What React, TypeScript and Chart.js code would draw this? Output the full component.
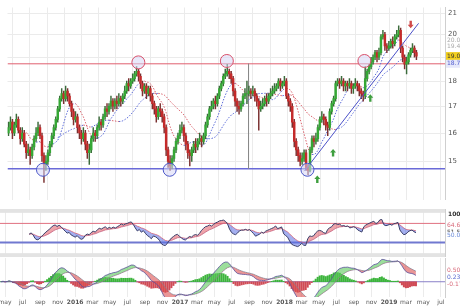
import React, { useEffect, useRef } from 'react';
import { Chart, registerables } from 'chart.js';

Chart.register(...registerables);

const startDate = '2015-04-17';

const opens = [
  16.0, 16.2, 16.4, 16.0, 16.3, 16.5, 16.1, 15.8, 16.0, 15.6,
  15.3, 15.4, 15.2, 15.5, 15.8, 16.0, 16.2, 15.9, 15.2, 14.9,
  15.0, 15.3, 15.6, 15.9, 16.2, 16.5, 16.9, 17.3, 17.5, 17.3,
  17.6, 17.4, 17.1, 16.8, 16.5, 16.6, 16.2, 16.0, 15.8, 16.0,
  15.6, 15.3, 15.4, 15.8, 16.0, 15.9, 16.2, 16.4, 16.3, 16.6,
  16.9, 16.8, 17.0, 17.2, 17.0, 17.2, 17.1, 17.3, 17.2, 17.4,
  17.6, 17.9, 17.8, 18.0, 18.1, 18.3, 18.4, 18.2, 17.9, 17.6,
  17.8, 17.5, 17.7, 17.4, 17.1, 16.9, 16.6, 16.9, 16.8, 16.6,
  16.2, 15.4, 15.0, 14.85, 15.1, 15.4, 15.7, 15.9, 16.1, 16.2,
  15.9, 15.6, 15.3, 15.2, 15.4, 15.6, 15.5, 15.7, 15.8, 15.7,
  15.9, 16.3, 16.6, 16.9, 17.0, 17.2, 17.1, 17.4, 17.7, 17.9,
  18.2, 18.3, 18.4, 18.3, 18.1, 17.6, 17.2, 17.0, 16.9, 17.1,
  17.4, 17.5, 17.5, 17.6, 17.5, 17.6, 17.4, 17.2, 16.9, 17.0,
  17.1, 17.3, 17.2, 17.4, 17.5, 17.6, 17.7, 17.8, 18.0, 17.8,
  17.9, 18.0, 17.4, 17.2, 17.0, 16.4, 15.7, 15.4, 15.2, 15.0,
  15.1, 15.3, 14.8, 14.7, 15.4, 15.8, 15.7, 15.8, 16.2, 16.5,
  16.6, 16.5, 16.3, 16.2, 16.8, 17.1, 17.3, 17.9, 18.0, 17.9,
  18.0, 17.8, 17.9, 17.8, 17.9, 17.7, 17.8, 17.9, 17.8, 17.6,
  17.5, 17.4, 18.1, 18.4, 18.6, 18.8, 19.0, 19.2, 19.0, 19.2,
  19.9, 20.0, 19.5, 19.4, 19.5, 19.7, 19.6, 19.9, 20.0, 20.2,
  19.4, 19.0, 18.7, 18.8, 19.1, 19.3, 19.4, 19.2,
];

const highs = [
  16.4, 16.6, 16.5, 16.4, 16.7, 16.6, 16.2, 16.2, 16.1, 15.7,
  15.6, 15.5, 15.6, 15.9, 16.2, 16.4, 16.3, 16.0, 15.3, 15.2,
  15.4, 15.7, 16.0, 16.3, 16.6, 17.0, 17.4, 17.7, 17.6, 17.8,
  17.7, 17.5, 17.2, 16.9, 16.8, 16.7, 16.3, 16.1, 16.2, 16.1,
  15.7, 15.6, 15.9, 16.2, 16.1, 16.3, 16.6, 16.5, 16.7, 17.0,
  17.1, 17.1, 17.4, 17.3, 17.3, 17.4, 17.5, 17.4, 17.5, 17.8,
  18.0, 18.1, 18.1, 18.3, 18.4, 18.6, 18.5, 18.3, 18.0, 17.9,
  17.9, 17.8, 17.8, 17.5, 17.2, 17.0, 17.0, 17.1, 16.9, 16.7,
  16.3, 15.5, 15.2, 15.2, 15.5, 15.8, 16.0, 16.3, 16.4, 16.3,
  16.0, 15.7, 15.4, 15.5, 15.7, 15.8, 15.8, 16.0, 15.9, 16.0,
  16.4, 16.7, 17.0, 17.2, 17.3, 17.4, 17.5, 17.8, 18.0, 18.3,
  18.5, 18.7, 18.5, 18.4, 18.2, 17.7, 17.3, 17.2, 17.2, 17.5,
  17.7, 18.0, 17.8, 17.7, 17.8, 17.7, 17.5, 17.3, 17.2, 17.3,
  17.4, 17.5, 17.5, 17.7, 17.8, 17.9, 17.9, 18.1, 18.1, 18.0,
  18.2, 18.1, 17.5, 17.3, 17.1, 16.5, 15.8, 15.5, 15.3, 15.3,
  15.4, 15.4, 14.9, 15.5, 15.9, 15.9, 16.0, 16.3, 16.6, 16.8,
  16.7, 16.6, 16.4, 16.9, 17.2, 17.4, 18.0, 18.1, 18.1, 18.2,
  18.1, 18.0, 18.0, 18.1, 18.0, 17.9, 18.1, 18.0, 17.9, 17.7,
  17.6, 18.6, 18.5, 18.7, 19.0, 19.1, 19.3, 19.3, 19.4, 20.0,
  20.2, 20.1, 19.6, 19.7, 19.8, 19.9, 20.0, 20.2, 20.4, 20.3,
  19.5, 19.1, 19.0, 19.2, 19.4, 19.6, 19.5, 19.3,
];

const lows = [
  15.9, 16.1, 15.8, 15.9, 16.2, 16.0, 15.6, 15.7, 15.5, 15.1,
  15.2, 14.9, 15.1, 15.4, 15.7, 15.9, 15.8, 15.0, 14.3, 14.7,
  14.9, 15.2, 15.5, 15.8, 16.1, 16.4, 16.8, 17.2, 17.1, 17.2,
  17.2, 17.0, 16.6, 16.3, 16.4, 16.0, 15.8, 15.6, 15.7, 15.4,
  15.1, 14.9, 15.3, 15.7, 15.7, 15.8, 16.1, 16.1, 16.2, 16.5,
  16.6, 16.7, 16.9, 16.8, 16.9, 16.9, 17.0, 17.0, 17.1, 17.3,
  17.5, 17.6, 17.7, 17.9, 18.0, 18.2, 18.0, 17.7, 17.4, 17.5,
  17.3, 17.4, 17.2, 16.9, 16.7, 16.4, 16.5, 16.6, 16.4, 16.0,
  15.2, 14.8, 14.7, 14.75, 15.0, 15.3, 15.6, 15.8, 16.0, 15.7,
  15.4, 15.1, 14.85, 15.0, 15.3, 15.3, 15.4, 15.6, 15.5, 15.6,
  15.8, 16.2, 16.5, 16.8, 16.9, 16.9, 17.0, 17.3, 17.6, 17.8,
  18.1, 18.2, 18.1, 17.9, 17.4, 17.0, 16.8, 16.7, 16.8, 17.0,
  17.3, 17.1, 17.4, 17.3, 17.4, 17.2, 17.0, 16.1, 16.8, 16.9,
  17.0, 17.0, 17.1, 17.3, 17.4, 17.5, 17.6, 17.7, 17.6, 17.7,
  17.8, 17.3, 17.0, 16.8, 16.2, 15.5, 15.2, 15.0, 14.85, 14.9,
  15.0, 14.7, 14.55, 14.65, 15.3, 15.5, 15.6, 15.7, 16.1, 16.4,
  16.3, 16.1, 15.9, 16.1, 16.7, 17.0, 17.2, 17.8, 17.7, 17.8,
  17.6, 17.6, 17.6, 17.7, 17.5, 17.5, 17.7, 17.6, 17.4, 17.3,
  17.2, 17.3, 18.0, 18.3, 18.5, 18.7, 18.9, 18.8, 18.9, 19.1,
  19.8, 19.3, 19.2, 19.3, 19.4, 19.4, 19.5, 19.8, 19.9, 19.2,
  18.8, 18.5, 18.3, 18.7, 19.0, 19.2, 19.0, 18.9,
];

const closes = [
  16.2, 16.4, 16.0, 16.3, 16.5, 16.1, 15.8, 16.0, 15.6, 15.3,
  15.4, 15.2, 15.5, 15.8, 16.0, 16.2, 15.9, 15.2, 14.9, 15.0,
  15.3, 15.6, 15.9, 16.2, 16.5, 16.9, 17.3, 17.5, 17.3, 17.6,
  17.4, 17.1, 16.8, 16.5, 16.6, 16.2, 16.0, 15.8, 16.0, 15.6,
  15.3, 15.4, 15.8, 16.0, 15.9, 16.2, 16.4, 16.3, 16.6, 16.9,
  16.8, 17.0, 17.2, 17.0, 17.2, 17.1, 17.3, 17.2, 17.4, 17.6,
  17.9, 17.8, 18.0, 18.1, 18.3, 18.4, 18.2, 17.9, 17.6, 17.8,
  17.5, 17.7, 17.4, 17.1, 16.9, 16.6, 16.9, 16.8, 16.6, 16.2,
  15.4, 15.0, 14.85, 15.1, 15.4, 15.7, 15.9, 16.1, 16.2, 15.9,
  15.6, 15.3, 15.2, 15.4, 15.6, 15.5, 15.7, 15.8, 15.7, 15.9,
  16.3, 16.6, 16.9, 17.0, 17.2, 17.1, 17.4, 17.7, 17.9, 18.2,
  18.3, 18.4, 18.3, 18.1, 17.6, 17.2, 17.0, 16.9, 17.1, 17.4,
  17.5, 17.5, 17.6, 17.5, 17.6, 17.4, 17.2, 16.9, 17.0, 17.1,
  17.3, 17.2, 17.4, 17.5, 17.6, 17.7, 17.8, 18.0, 17.8, 17.9,
  18.0, 17.4, 17.2, 17.0, 16.4, 15.7, 15.4, 15.2, 15.0, 15.1,
  15.3, 14.8, 14.7, 15.4, 15.8, 15.7, 15.8, 16.2, 16.5, 16.6,
  16.5, 16.3, 16.2, 16.8, 17.1, 17.3, 17.9, 18.0, 17.9, 18.0,
  17.8, 17.9, 17.8, 17.9, 17.7, 17.8, 17.9, 17.8, 17.6, 17.5,
  17.4, 18.1, 18.4, 18.6, 18.8, 19.0, 19.2, 19.0, 19.2, 19.9,
  20.0, 19.5, 19.4, 19.5, 19.7, 19.6, 19.9, 20.0, 20.2, 19.4,
  19.0, 18.7, 18.8, 19.1, 19.3, 19.4, 19.2, 19.05,
];

const tickDates = [
  '2015-05-01', '2015-07-01', '2015-09-01', '2015-11-01',
  '2016-01-01', '2016-03-01', '2016-05-01', '2016-07-01', '2016-09-01', '2016-11-01',
  '2017-01-01', '2017-03-01', '2017-05-01', '2017-07-01', '2017-09-01', '2017-11-01',
  '2018-01-01', '2018-03-01', '2018-05-01', '2018-07-01', '2018-09-01', '2018-11-01',
  '2019-01-01', '2019-03-01', '2019-05-01', '2019-07-01',
];
const tickLabels = [
  'may', 'jul', 'sep', 'nov',
  '2016', 'mar', 'may', 'jul', 'sep', 'nov',
  '2017', 'mar', 'may', 'jul', 'sep', 'nov',
  '2018', 'mar', 'may', 'jul', 'sep', 'nov',
  '2019', 'mar', 'may', 'jul',
];

const priceTicks = [15, 16, 17, 18, 19, 20, 21];
const resistanceLevel = 18.72;
const supportLevel = 14.75;
const highCircles = [ { w: 65.9, p: 18.78 }, { w: 110.8, p: 18.84 }, { w: 180.6, p: 18.84 } ];
const lowCircles = [ { w: 17.5, p: 14.72 }, { w: 81.8, p: 14.72 }, { w: 151.7, p: 14.72 } ];
const trendLine = [ { w: 150.2, p: 14.68 }, { w: 208.1, p: 20.52 } ];
const markerLine = [ { w: 121.8, p: 18.72 }, { w: 121.8, p: 14.75 } ];
const signalArrows = [
  { w: 156.7, p: 14.40, dir: 'up' },
  { w: 164.7, p: 15.29, dir: 'up' },
  { w: 183.6, p: 17.31, dir: 'up' },
  { w: 204.1, p: 20.48, dir: 'down' },
];
const priceTags = [
  { value: 19.75, text: '20.06', kind: 'plain' },
  { value: 19.45, text: '19.42', kind: 'plain' },
  { value: 19.05, text: '19.05', kind: 'last' },
  { value: 18.72, text: '18.72', kind: 'level' },
];
const rsiLevels = { upper: 70, lower: 30 };
const rsiTags = [
  { value: 66, text: '64.61', color: '#d86a7a' },
  { value: 52, text: '51.58', color: '#333' },
  { value: 44, text: '50.00', color: '#6a8ad8' },
];
const macdTags = [
  { value: 0.32, text: '0.503', color: '#d86a7a' },
  { value: 0.13, text: '0.231', color: '#5a6ad0' },
  { value: -0.08, text: '-0.171', color: '#d86a7a' },
];

// ---------- derived indicators ----------
function sma(values: number[], n: number): (number | null)[] {
  return values.map((_, i) => {
    if (i < n - 1) return null;
    let s = 0;
    for (let k = i - n + 1; k <= i; k++) s += values[k];
    return s / n;
  });
}
function ema(values: number[], n: number): number[] {
  const a = 2 / (n + 1);
  const out: number[] = [];
  values.forEach((v, i) => out.push(i === 0 ? v : out[i - 1] + a * (v - out[i - 1])));
  return out;
}
function rsi(values: number[], n: number): (number | null)[] {
  const out: (number | null)[] = [null];
  let ag = 0, al = 0;
  for (let i = 1; i < values.length; i++) {
    const ch = values[i] - values[i - 1];
    const g = Math.max(ch, 0), l = Math.max(-ch, 0);
    if (i <= n) {
      ag += g / n; al += l / n;
      out.push(i === n ? 100 - 100 / (1 + ag / (al || 1e-9)) : null);
    } else {
      ag = (ag * (n - 1) + g) / n;
      al = (al * (n - 1) + l) / n;
      out.push(100 - 100 / (1 + ag / (al || 1e-9)));
    }
  }
  return out;
}

const weekOf = (d: string) => (Date.parse(d) - Date.parse(startDate)) / 604800000;
const tickWeeks = tickDates.map(weekOf);
const weeks = closes.map((_, i) => i);

const X_MIN = -0.5;
const X_MAX = 221.5;
const AXIS_W = 15;
const FONT = 'DejaVu Sans';

function xScale(showLabels: boolean) {
  return {
    type: 'linear',
    min: X_MIN,
    max: X_MAX,
    bounds: 'data',
    offset: false,
    afterBuildTicks: (s: any) => { s.ticks = tickWeeks.map((v) => ({ value: v })); },
    afterFit: (s: any) => { s.height = showLabels ? 11 : 0; s.paddingLeft = 0; s.paddingRight = 0; },
    grid: { color: '#ebebeb', drawTicks: false, offset: false },
    border: { display: false },
    ticks: {
      display: showLabels,
      autoSkip: false,
      maxRotation: 0,
      padding: 2,
      color: '#555',
      font: (ctx: any) => ({ size: 6, family: FONT, weight: /^\d/.test(tickLabels[ctx.index] || '') ? 'bold' : 'normal' }),
      callback: (_v: any, i: number) => tickLabels[i],
    },
  };
}

function yFit(s: any) { s.width = AXIS_W; s.paddingTop = 0; s.paddingBottom = 0; }

function drawTag(ctx: CanvasRenderingContext2D, x: number, y: number, text: string, bg: string | null, fg: string) {
  ctx.font = `6px ${FONT}`;
  if (bg) {
    ctx.fillStyle = bg;
    ctx.fillRect(x, y - 4, 20, 8);
  }
  ctx.fillStyle = fg;
  ctx.textBaseline = 'middle';
  ctx.textAlign = 'left';
  ctx.fillText(text, x + 1, y);
}

const priceOverlay = {
  id: 'priceOverlay',
  afterDatasetsDraw(chart: any) {
    const { ctx, scales: { x, y } } = chart;
    ctx.save();
    signalArrows.forEach((a) => {
      const px = x.getPixelForValue(a.w);
      const py = y.getPixelForValue(a.p);
      const d = a.dir === 'up' ? -1 : 1;
      ctx.fillStyle = a.dir === 'up' ? '#3f9f3f' : '#d04a4a';
      ctx.beginPath();
      ctx.moveTo(px, py + d * 4);
      ctx.lineTo(px - 3, py + d * 0.5);
      ctx.lineTo(px - 1.2, py + d * 0.5);
      ctx.lineTo(px - 1.2, py - d * 3.5);
      ctx.lineTo(px + 1.2, py - d * 3.5);
      ctx.lineTo(px + 1.2, py + d * 0.5);
      ctx.lineTo(px + 3, py + d * 0.5);
      ctx.closePath();
      ctx.fill();
    });
    ctx.restore();
  },
  afterDraw(chart: any) {
    const { ctx, scales: { y }, chartArea } = chart;
    ctx.save();
    priceTags.forEach((t) => {
      const py = y.getPixelForValue(t.value);
      if (t.kind === 'last') drawTag(ctx, chartArea.right + 1, py, t.text, '#f2cf1f', '#333');
      else if (t.kind === 'level') drawTag(ctx, chartArea.right + 1, py, t.text, '#e6e8fa', '#5560d0');
      else drawTag(ctx, chartArea.right + 1, py, t.text, '#ffffff', '#aaa');
    });
    ctx.restore();
  },
};

function bandPlugin(bands: { from: number; to: number }[]) {
  return {
    id: 'bands',
    beforeDatasetsDraw(chart: any) {
      const { ctx, scales: { y }, chartArea } = chart;
      ctx.save();
      ctx.fillStyle = '#e3e3e3';
      bands.forEach((b) => {
        const y1 = y.getPixelForValue(b.to);
        const y2 = y.getPixelForValue(b.from);
        ctx.fillRect(chartArea.left, y1, chartArea.right - chartArea.left, y2 - y1);
      });
      ctx.restore();
    },
  };
}

function tagPlugin(tags: { value: number; text: string; color: string }[], extra?: { value: number; text: string }) {
  return {
    id: 'tags',
    afterDraw(chart: any) {
      const { ctx, scales: { y }, chartArea } = chart;
      ctx.save();
      tags.forEach((t) => drawTag(ctx, chartArea.right + 1, y.getPixelForValue(t.value), t.text, '#fff', t.color));
      if (extra) {
        ctx.font = `bold 6px ${FONT}`;
        ctx.fillStyle = '#333';
        ctx.textBaseline = 'middle';
        ctx.fillText(extra.text, chartArea.right + 3, y.getPixelForValue(extra.value));
      }
      ctx.restore();
    },
  };
}

const slopeColor = (ctx: any) => (ctx.p1.parsed.y >= ctx.p0.parsed.y ? '#5a6ad8' : '#d9606a');

export default function App() {
  const c1 = useRef<HTMLCanvasElement>(null);
  const c2 = useRef<HTMLCanvasElement>(null);
  const c3 = useRef<HTMLCanvasElement>(null);

  useEffect(() => {
    const up = closes.map((c, i) => c >= opens[i]);
    const ma1 = sma(closes, 10);
    const ma2 = sma(closes, 26);
    const rsiVals = rsi(closes, 14);
    const rsiSig = (() => {
      const out: (number | null)[] = [];
      rsiVals.forEach((v, i) => {
        if (v === null) { out.push(null); return; }
        const prev = out[i - 1];
        out.push(prev == null ? v : prev + (2 / 10) * (v - prev));
      });
      return out;
    })();
    const e12 = ema(closes, 12);
    const e26 = ema(closes, 26);
    const macd = e12.map((v, i) => v - e26[i]);
    const sig = ema(macd, 9);
    const hist = macd.map((v, i) => v - sig[i]);

    const xy = (arr: (number | null)[]) => arr.map((v, i) => ({ x: weeks[i], y: v }));
    const full = (v: number) => [{ x: X_MIN, y: v }, { x: X_MAX, y: v }];

    const common: any = {
      responsive: false,
      animation: false,
      events: [],
      layout: { padding: 0 },
      plugins: { legend: { display: false }, tooltip: { enabled: false } },
    };

    const priceChart = new Chart(c1.current!, {
      type: 'bar',
      data: {
        datasets: [
          { type: 'line', data: highCircles.map((c) => ({ x: c.w, y: c.p })), showLine: false, pointRadius: 6.5, pointBackgroundColor: 'rgba(215,215,245,0.55)', pointBorderColor: '#d8506a', pointBorderWidth: 1, order: 1 },
          { type: 'line', data: lowCircles.map((c) => ({ x: c.w, y: c.p })), showLine: false, pointRadius: 6.5, pointBackgroundColor: 'rgba(215,215,245,0.55)', pointBorderColor: '#4a56c8', pointBorderWidth: 1, order: 1 },
          { type: 'line', data: trendLine.map((c) => ({ x: c.w, y: c.p })), borderColor: '#4a50c8', borderWidth: 1, pointRadius: 0, order: 2 },
          { type: 'bar', data: weeks.map((w, i) => ({ x: w, y: [opens[i], closes[i]] })), backgroundColor: up.map((u) => (u ? '#35a835' : '#c42a2a')), borderWidth: 0, barThickness: 1.8, grouped: false, order: 3 },
          { type: 'bar', data: weeks.map((w, i) => ({ x: w, y: [lows[i], highs[i]] })), backgroundColor: up.map((u) => (u ? '#3b6b3b' : '#7a3030')), borderWidth: 0, barThickness: 0.8, grouped: false, order: 4 },
          { type: 'line', data: xy(ma1), borderWidth: 1, borderDash: [1.5, 1.5], pointRadius: 0, segment: { borderColor: slopeColor }, borderColor: '#d9606a', order: 5 },
          { type: 'line', data: xy(ma2), borderWidth: 1, borderDash: [1.5, 1.5], pointRadius: 0, segment: { borderColor: slopeColor }, borderColor: '#5a6ad8', order: 5 },
          { type: 'line', data: markerLine.map((c) => ({ x: c.w, y: c.p })), borderColor: '#8a8a8a', borderWidth: 1, pointRadius: 0, order: 6 },
          { type: 'line', data: full(resistanceLevel), borderColor: '#e06070', borderWidth: 1, pointRadius: 0, order: 7 },
          { type: 'line', data: full(supportLevel), borderColor: '#6a6ad8', borderWidth: 1.5, pointRadius: 0, order: 7 },
        ],
      },
      options: {
        ...common,
        scales: {
          x: xScale(false),
          y: {
            type: 'logarithmic',
            position: 'right',
            min: 13.76,
            max: 21.27,
            bounds: 'data',
            beginAtZero: false,
            afterBuildTicks: (s: any) => { s.ticks = priceTicks.map((v) => ({ value: v })); },
            afterFit: yFit,
            grid: { color: '#ebebeb', drawTicks: false },
            border: { color: '#cfcfcf' },
            ticks: { padding: 3, color: '#555', font: { size: 7, family: FONT }, callback: (v: any) => String(v) },
          },
        },
      } as any,
      plugins: [priceOverlay],
    } as any);

    const rsiChart = new Chart(c2.current!, {
      type: 'line',
      data: {
        datasets: [
          { data: xy(rsiVals), borderColor: '#3a3f6a', borderWidth: 1, pointRadius: 0, fill: { target: '+1', above: 'rgba(222,90,100,0.55)', below: 'rgba(90,110,225,0.55)' }, order: 1 },
          { data: xy(rsiSig), borderColor: '#d86070', borderWidth: 0.8, pointRadius: 0, fill: false, order: 2 },
          { data: full(rsiLevels.upper), borderColor: '#e07080', borderWidth: 1, pointRadius: 0, fill: false, order: 3 },
          { data: full(rsiLevels.lower), borderColor: '#7078d0', borderWidth: 2, pointRadius: 0, fill: false, order: 3 },
        ],
      },
      options: {
        ...common,
        scales: {
          x: xScale(false),
          y: {
            type: 'linear', position: 'right', min: 0, max: 100, bounds: 'data',
            afterBuildTicks: (s: any) => { s.ticks = [{ value: 100 }]; },
            afterFit: yFit,
            grid: { display: false },
            border: { color: '#cfcfcf' },
            ticks: { display: false },
          },
        },
      } as any,
      plugins: [bandPlugin([{ from: 92, to: 100 }, { from: 0, to: 8 }]), tagPlugin(rsiTags, { value: 89, text: '100' })],
    } as any);

    const macdChart = new Chart(c3.current!, {
      type: 'bar',
      data: {
        datasets: [
          { type: 'line', data: xy(macd), borderColor: '#5a4f9a', borderWidth: 0.8, pointRadius: 0, fill: { target: '+1', above: 'rgba(90,200,90,0.6)', below: 'rgba(220,80,80,0.6)' }, order: 1 },
          { type: 'line', data: xy(sig), borderColor: '#8a7aa0', borderWidth: 0.8, pointRadius: 0, fill: false, order: 2 },
          { type: 'bar', data: xy(hist), backgroundColor: hist.map((h) => (h >= 0 ? '#3cb43c' : '#d04a55')), borderWidth: 0, barThickness: 1.4, grouped: false, order: 3 },
          { type: 'line', data: full(0), borderColor: '#8a80c8', borderWidth: 1, pointRadius: 0, fill: false, order: 4 },
        ],
      },
      options: {
        ...common,
        scales: {
          x: xScale(true),
          y: {
            type: 'linear', position: 'right', min: -0.45, max: 0.7, bounds: 'data', beginAtZero: false,
            afterBuildTicks: (s: any) => { s.ticks = [{ value: 0 }]; },
            afterFit: yFit,
            grid: { display: false },
            border: { color: '#cfcfcf' },
            ticks: { display: false },
          },
        },
      } as any,
      plugins: [tagPlugin(macdTags)],
    } as any);

    return () => { priceChart.destroy(); rsiChart.destroy(); macdChart.destroy(); };
  }, []);

  return (
    <div style={{ position: 'fixed', left: 0, top: 0, width: 460, height: 308, background: '#fff', overflow: 'hidden' }}>
      <canvas ref={c1} width={460} height={207} style={{ position: 'absolute', left: 0, top: 0 }} />
      <canvas ref={c2} width={460} height={48} style={{ position: 'absolute', left: 0, top: 209 }} />
      <canvas ref={c3} width={460} height={50} style={{ position: 'absolute', left: 0, top: 258 }} />
    </div>
  );
}
